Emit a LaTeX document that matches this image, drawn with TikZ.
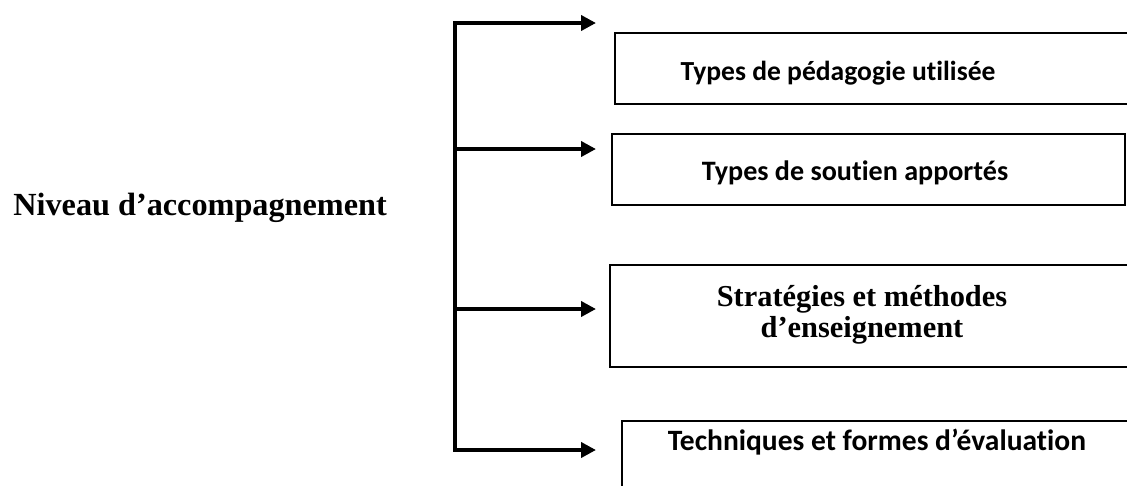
\documentclass[tikz,border=0pt]{standalone}
\usepackage{fontspec}
\setmainfont{Liberation Serif}
\newfontfamily\calibri[Ligatures=NoCommon]{Carlito}
\usetikzlibrary{arrows.meta}

\begin{document}
\begin{tikzpicture}[x=0.02cm,y=-0.02cm,>={Triangle[length=8.5pt,width=8.5pt]}]
\tikzset{
	boite/.style={draw,line width=1.3pt,anchor=north west,inner sep=0pt},
	cal/.style={font=\calibri\bfseries\fontsize{#1}{18}\selectfont,inner sep=0pt,anchor=base},
	tim/.style={font=\bfseries\fontsize{#1}{17.6}\selectfont,inner sep=0pt},
	fleche/.style={line width=2.3pt}
}
\clip (0,0) rectangle (1127,485);
% cadres
\node(box1)[boite,minimum width=10.8cm,minimum height=1.42cm] at (614,32) {};
\node(box2)[boite,minimum width=10.26cm,minimum height=1.42cm] at (611,133) {};
\node(box3)[boite,minimum width=10.8cm,minimum height=2.04cm] at (609,264) {};
\node(box4)[boite,minimum width=10.8cm,minimum height=2cm] at (621,420) {};
\node(t1)[cal=15.7] at (838,80) {Types de pédagogie utilisée};
\node(t2)[cal=16] at (855,180) {Types de soutien apportés};
\node(t3)[tim=17.3,align=center] at (862,315) {Stratégies et méthodes\\d’enseignement};
\node(t4)[cal=16.8] at (877,450) {Techniques et formes d’évaluation};
\node(niv)[tim=18.35,anchor=base west] at (13,215) {Niveau d’accompagnement};
% accolade et fleches
\coordinate (haut) at (455,23);
\coordinate (bas) at (455,450);
\coordinate (b2) at (455,149);
\coordinate (b3) at (455,309);
\coordinate (f1) at (596,23);
\coordinate (f2) at (596,149);
\coordinate (f3) at (596,309);
\coordinate (f4) at (596,450);
\draw[fleche,<->] (f1) -- (haut) -- (bas) -- (f4);
\draw[fleche,->] (b2) -- (f2);
\draw[fleche,->] (b3) -- (f3);
\end{tikzpicture}
\end{document}
